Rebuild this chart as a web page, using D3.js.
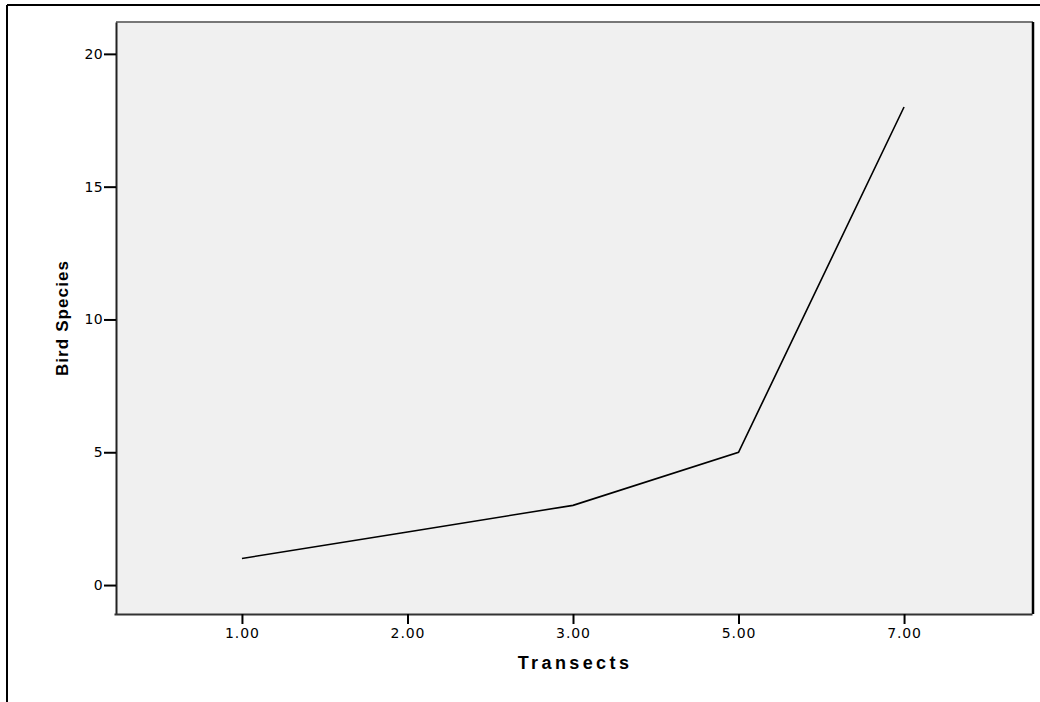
<!DOCTYPE html>
<html><head><meta charset="utf-8">
<script src="https://cdn.jsdelivr.net/npm/d3@7"></script>
<style>body{margin:0;background:#fff}svg{display:block}</style>
</head><body>
<svg id="c" width="1040" height="702"></svg>
<script>
const categories = ["1.00","2.00","3.00","5.00","7.00"];
const birdSpecies = [1, 2, 3, 5, 18];
const yTicks = [0, 5, 10, 15, 20];

const svg = d3.select("#c");
const L = 116, R = 1033, T = 22, B = 614;
const tickFont = "DejaVu Sans, Verdana, sans-serif";

// outer frame
svg.append("line").attr("x1",7).attr("x2",1040).attr("y1",5).attr("y2",5).attr("stroke","#000").attr("stroke-width",2);
svg.append("line").attr("x1",7).attr("x2",7).attr("y1",5).attr("y2",702).attr("stroke","#000").attr("stroke-width",2);

const x = d3.scalePoint().domain(categories).range([L-2, R-1]).padding(0.773);
const y = d3.scaleLinear().domain([-1.09, 21.2]).range([B, T]);

svg.append("rect").attr("x",L).attr("y",T).attr("width",R-L).attr("height",B-T).attr("fill","#f0f0f0");

// borders
svg.append("line").attr("x1",L).attr("x2",R).attr("y1",T).attr("y2",T).attr("stroke","#777").attr("stroke-width",2);
svg.append("line").attr("x1",R).attr("x2",R).attr("y1",T).attr("y2",B).attr("stroke","#000").attr("stroke-width",2.5);

const yAxis = svg.append("g").attr("transform",`translate(${L},0)`)
  .call(d3.axisLeft(y).tickValues(yTicks).tickSize(12).tickSizeOuter(0).tickPadding(1).tickFormat(d3.format("d")));
yAxis.select(".domain").attr("stroke","#222").attr("stroke-width",2);
yAxis.selectAll(".tick line").attr("stroke","#000").attr("stroke-width",2);
yAxis.selectAll("text").attr("font-family",tickFont).attr("font-size",14).attr("letter-spacing",0.3).attr("fill","#000");

const xAxis = svg.append("g").attr("transform",`translate(0,${B})`)
  .call(d3.axisBottom(x).tickSize(10).tickPadding(4).tickSizeOuter(0));
xAxis.select(".domain").attr("stroke","#333").attr("stroke-width",2);
xAxis.selectAll(".tick line").attr("stroke","#000").attr("stroke-width",2);
xAxis.selectAll("text").attr("font-family",tickFont).attr("font-size",14).attr("letter-spacing",0.9).attr("fill","#000");

const data = categories.map((c,i)=>({c, v: birdSpecies[i]}));
svg.append("path").datum(data)
  .attr("fill","none").attr("stroke","#000").attr("stroke-width",1.6)
  .attr("d", d3.line().x(d=>x(d.c)).y(d=>y(d.v)));

svg.append("text").attr("x",575).attr("y",669).attr("text-anchor","middle")
  .attr("font-family","Liberation Sans, Arial, sans-serif").attr("font-weight","bold")
  .attr("font-size",18).attr("letter-spacing",3.4).text("Transects");

svg.append("text").attr("transform","translate(68,318) rotate(-90)").attr("text-anchor","middle")
  .attr("font-family","Liberation Sans, Arial, sans-serif").attr("font-weight","bold")
  .attr("font-size",17).attr("letter-spacing",1.1).text("Bird Species");
</script>
</body></html>
